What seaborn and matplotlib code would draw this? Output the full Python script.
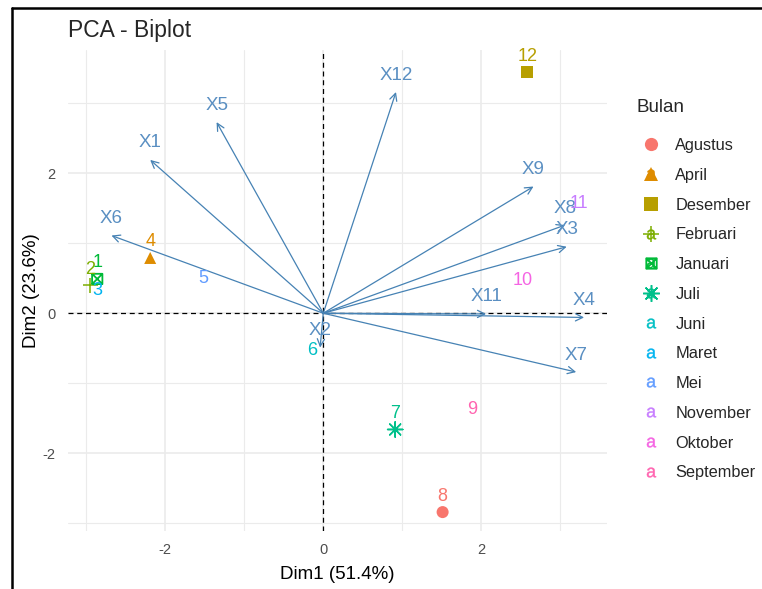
import numpy as np
import pandas as pd
import matplotlib
matplotlib.use("Agg")
import matplotlib.pyplot as plt
import seaborn as sns
from matplotlib.lines import Line2D
from matplotlib.path import Path
from matplotlib.legend_handler import HandlerTuple

# ---------------- data ----------------
bulan = ["Januari", "Februari", "Maret", "April", "Mei", "Juni", "Juli",
         "Agustus", "September", "Oktober", "November", "Desember"]
ind_label = ["1", "2", "3", "4", "5", "6", "7", "8", "9", "10", "11", "12"]
ind_x = [-2.86, -2.95, -2.86, -2.19, -1.52, -0.14, 0.91, 1.51, 1.89, 2.52, 3.23, 2.58]
ind_y = [0.49, 0.40, 0.09, 0.79, 0.27, -0.76, -1.66, -2.84, -1.61, 0.24, 1.34, 3.44]

var_names = ["X1", "X2", "X3", "X4", "X5", "X6", "X7", "X8", "X9", "X11", "X12"]
var_x = [-2.19, -0.04, 3.08, 3.30, -1.35, -2.68, 3.20, 3.06, 2.66, 2.06, 0.92]
var_y = [2.19, -0.49, 0.95, -0.06, 2.73, 1.11, -0.84, 1.26, 1.81, -0.01, 3.16]

legend_order = ["Agustus", "April", "Desember", "Februari", "Januari", "Juli",
                "Juni", "Maret", "Mei", "November", "Oktober", "September"]
legend_colors = ["#F8766D", "#DE8C00", "#B79F00", "#7CAE00", "#00BA38", "#00C08B",
                 "#00BFC4", "#00B4F0", "#619CFF", "#C77CFF", "#F564E3", "#FF64B0"]

x_label = "Dim1 (51.4%)"
y_label = "Dim2 (23.6%)"
title = "PCA - Biplot"

# ---------------- style ----------------
sns.set_style("white")
plt.rcParams["font.family"] = ["Liberation Sans", "DejaVu Sans"]
plt.rcParams["axes.unicode_minus"] = False

pal = dict(zip(legend_order, legend_colors))
df = pd.DataFrame({"x": ind_x, "y": ind_y, "Bulan": bulan, "label": ind_label})

# custom "square cross" marker (R shape 7)
sq_cross = Path(
    [(-1, -1), (1, -1), (1, 1), (-1, 1), (-1, -1), (-1, -1), (1, 1), (-1, 1), (1, -1)],
    [Path.MOVETO, Path.LINETO, Path.LINETO, Path.LINETO, Path.CLOSEPOLY,
     Path.MOVETO, Path.LINETO, Path.MOVETO, Path.LINETO])
asterisk = (8, 2, 0)
shape_map = {"Agustus": "o", "April": "^", "Desember": "s",
             "Februari": "+", "Januari": sq_cross, "Juli": asterisk}

fig = plt.figure(figsize=(7.62, 5.89), dpi=100)
ax = fig.add_axes([68 / 762, 1 - 531 / 589, (607 - 68) / 762, (531 - 50) / 589])

ax.set_xlim(-3.23, 3.59)
ax.set_ylim(-3.11, 3.76)

# grid
ax.set_xticks([-2, 0, 2])
ax.set_yticks([-2, 0, 2])
ax.set_xticks([-3, -1, 1, 3], minor=True)
ax.set_yticks([-3, -1, 1, 3], minor=True)
ax.grid(True, which="major", color="#EBEBEB", lw=1.2)
ax.grid(True, which="minor", color="#EBEBEB", lw=0.8)
ax.set_axisbelow(True)
for s in ax.spines.values():
    s.set_visible(False)
ax.tick_params(which="major", length=4, width=0.9, color="#333333",
               labelsize=10.5, labelcolor="#4D4D4D", pad=5)
ax.tick_params(which="minor", length=0)

# reference lines
ax.axhline(0, color="black", ls=(0, (4, 3)), lw=0.9, zorder=1)
ax.axvline(0, color="black", ls=(0, (4, 3)), lw=0.9, zorder=1)

# variable arrows
for n, vx, vy in zip(var_names, var_x, var_y):
    ax.annotate("", xy=(vx, vy), xytext=(0, 0),
                arrowprops=dict(arrowstyle="->", color="steelblue", lw=0.9,
                                mutation_scale=13, shrinkA=0, shrinkB=0), zorder=2)
    ax.annotate(n, xy=(vx, vy), xytext=(0, 17), textcoords="offset pixels",
                ha="center", va="center", color="#5A8FC2", fontsize=13.5, zorder=3)

# individuals with shapes (seaborn)
filled = df[df["Bulan"].isin(["Agustus", "April", "Desember"])]
sns.scatterplot(data=filled, x="x", y="y", hue="Bulan", style="Bulan",
                palette=pal, markers={k: shape_map[k] for k in ["Agustus", "April", "Desember"]},
                s=75, linewidth=0, legend=False, ax=ax, zorder=4)
lined = df[df["Bulan"].isin(["Februari", "Juli"])]
sns.scatterplot(data=lined, x="x", y="y", hue="Bulan", style="Bulan",
                palette=pal, markers={"Februari": "+", "Juli": asterisk},
                s=120, linewidth=1.1, legend=False, ax=ax, zorder=4)
jan = df[df["Bulan"] == "Januari"]
ax.scatter(jan["x"], jan["y"], marker=sq_cross, s=55, facecolors="none",
           edgecolors=pal["Januari"], linewidths=1.3, zorder=4)

# individual labels
for _, r in df.iterrows():
    ax.annotate(r["label"], xy=(r["x"], r["y"]), xytext=(0, 16),
                textcoords="offset pixels", ha="center", va="center",
                color=pal[r["Bulan"]], fontsize=13, zorder=5)

ax.set_xlabel(x_label, fontsize=13.5, color="black", labelpad=6)
ax.set_ylabel(y_label, fontsize=13.5, color="black", labelpad=2)

fig.text(68 / 762, 1 - 30 / 589, title, fontsize=16.5, ha="left", va="center")

# legend
handles = []
for name in legend_order:
    c = pal[name]
    a_h = Line2D([], [], ls="none", marker=r"$\mathregular{a}$", color=c,
                 markersize=7, markeredgewidth=0.3)
    if name in shape_map:
        m = shape_map[name]
        if name in ["Agustus", "April", "Desember"]:
            sh = Line2D([], [], ls="none", marker=m, color=c, markersize=9.5,
                        markeredgewidth=0)
        elif name == "Januari":
            sh = Line2D([], [], ls="none", marker=m, color=c, markerfacecolor="none",
                        markersize=7.5, markeredgewidth=1.3)
        else:
            sh = Line2D([], [], ls="none", marker=m, color=c, markersize=12,
                        markeredgewidth=1.1)
        handles.append((a_h, sh))
    else:
        handles.append(a_h)

leg = ax.legend(handles, legend_order, title="Bulan", loc="upper left",
                bbox_to_anchor=(636 / 762, 1 - 99 / 589), bbox_transform=fig.transFigure,
                frameon=False, borderpad=0, borderaxespad=0, fontsize=11.8,
                title_fontsize=13.5, handlelength=1.8, handletextpad=0.6,
                labelspacing=0.9, alignment="left",
                handler_map={tuple: HandlerTuple(ndivide=1, pad=0)})
leg._legend_box.sep = 16

# figure border lines
fig.add_artist(Line2D([12 / 762, 12 / 762], [0, 1 - 8 / 589], transform=fig.transFigure,
                      color="black", lw=1.8))
fig.add_artist(Line2D([12 / 762, 1], [1 - 8 / 589, 1 - 8 / 589], transform=fig.transFigure,
                      color="black", lw=1.8))

fig.savefig("out.png", dpi=100)
